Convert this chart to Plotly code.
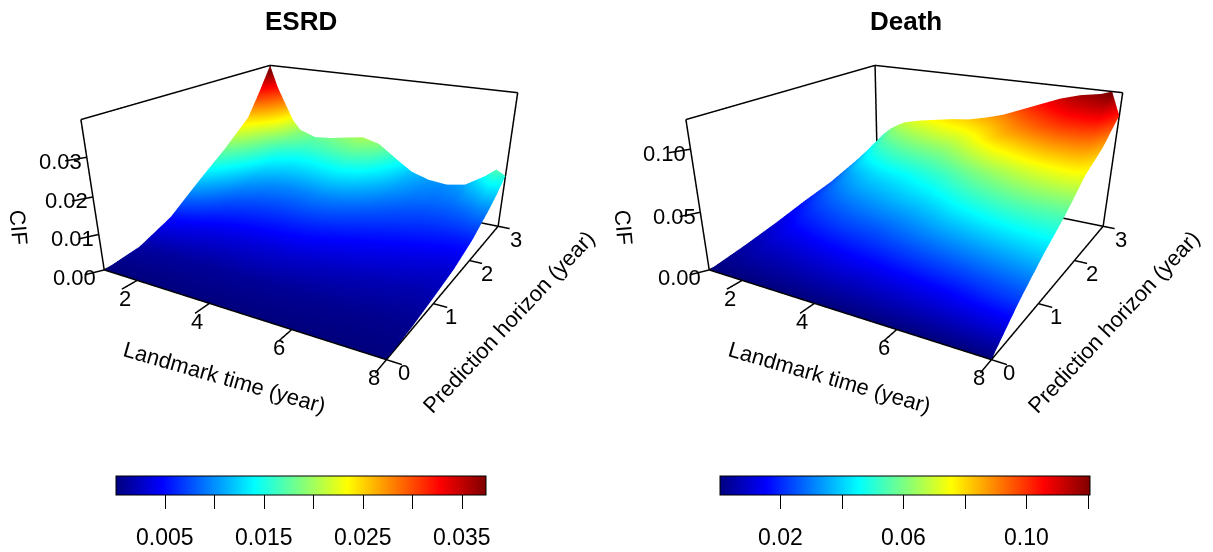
import plotly.graph_objects as go

landmark = [1, 1.25, 1.5, 1.75, 2, 2.5, 3, 3.5, 4, 4.5, 5, 5.5, 6, 6.5, 7, 7.5, 7.75, 8]
horizon = [0, 0.5, 1, 1.5, 2, 2.5, 2.75, 3]
esrd_h000 = [0]*18
esrd_h050 = [.0013,.0013,.0012,.0012,.0011,.0011,.0010,.0010,.0010,.0009,.0009,.0008,.0007,.0007,.0006,.0006,.0006,.0006]
esrd_h100 = [.0052,.0049,.0046,.0043,.0040,.0036,.0034,.0033,.0032,.0031,.0028,.0025,.0023,.0021,.0019,.0017,.0017,.0018]
esrd_h150 = [.0118,.0107,.0095,.0085,.0076,.0068,.0064,.0062,.0061,.0059,.0054,.0049,.0045,.0041,.0037,.0033,.0032,.0032]
esrd_h200 = [.0180,.0163,.0145,.0128,.0113,.0100,.0096,.0096,.0098,.0094,.0085,.0076,.0069,.0064,.0060,.0057,.0057,.0058]
esrd_h250 = [.0250,.0224,.0198,.0172,.0152,.0140,.0140,.0145,.0150,.0141,.0122,.0103,.0091,.0085,.0085,.0091,.0099,.0099]
esrd_h275 = [.0317,.0281,.0244,.0208,.0182,.0163,.0166,.0174,.0180,.0168,.0139,.0112,.0098,.0093,.0097,.0116,.0130,.0125]
esrd_h300 = [.0390,.0323,.0273,.0224,.0195,.0179,.0184,.0194,.0203,.0190,.0154,.0120,.0104,.0099,.0109,.0146,.0170,.0156]
death_h000 = [0]*18
death_h050 = [.005,.006,.007,.008,.008,.009,.010,.011,.012,.012,.013,.014,.015,.016,.018,.020,.021,.022]
death_h100 = [.011,.013,.015,.017,.018,.020,.022,.023,.024,.026,.028,.030,.032,.034,.036,.038,.039,.040]
death_h150 = [.018,.021,.024,.026,.028,.031,.033,.035,.037,.039,.042,.046,.049,.052,.054,.055,.055,.055]
death_h200 = [.024,.029,.033,.036,.038,.042,.044,.046,.049,.052,.057,.062,.066,.070,.073,.075,.075,.074]
death_h250 = [.033,.040,.046,.050,.053,.057,.060,.062,.064,.070,.077,.084,.089,.095,.100,.100,.097,.085]
death_h275 = [.038,.047,.053,.058,.061,.065,.068,.071,.073,.077,.083,.090,.097,.103,.109,.112,.112,.094]
death_h300 = [.043,.053,.060,.065,.069,.073,.076,.079,.081,.085,.090,.097,.104,.111,.116,.119,.122,.1025]
esrd_z = [esrd_h000, esrd_h050, esrd_h100, esrd_h150, esrd_h200, esrd_h250, esrd_h275, esrd_h300]
death_z = [death_h000, death_h050, death_h100, death_h150, death_h200, death_h250, death_h275, death_h300]
esrd_ticks = [0, .01, .02, .03]
death_ticks = [0, .05, .10]
esrd_top = 0.0390
death_top = 0.1220
esrd_clim = [0, 0.0374]
death_clim = [0.0002, 0.1205]
esrd_cb = [.005, .01, .015, .02, .025, .03, .035]
esrd_cb_text = ["0.005", "", "0.015", "", "0.025", "", "0.035"]
death_cb = [.02, .04, .06, .08, .10, .12]
death_cb_text = ["0.02", "", "0.06", "", "0.10", ""]
t_ticks = [2, 4, 6, 8]
h_ticks = [0, 1, 2, 3]

XR = [0, 9]; YR = [-0.5, 3.5]
ex, ey, ez, cx, cy, cz, ay, az = 0.808, -1.4274, 0.5741, 0.5261, -0.9501, 0.2851, 1.0437, 0.4201

jet = ["#00007F","#0000FF","#007FFF","#00FFFF","#7FFF7F","#FFFF00","#FF7F00","#FF0000","#7F0000"]
cs = [[i/8, c] for i, c in enumerate(jet)]
FONT = "Liberation Sans"
BLACK = "#000000"

def lines(top, zticks):
    X, Y, Z = [], [], []
    def seg(a, b):
        for q in (a, b, (None,)*3):
            X.append(q[0]); Y.append(q[1]); Z.append(q[2])
    seg((1,0,0),(8,0,0)); seg((8,0,0),(8,3,0)); seg((8,3,0),(1,3,0)); seg((1,3,0),(1,0,0))
    seg((1,0,0),(1,0,top)); seg((1,3,0),(1,3,top)); seg((8,3,0),(8,3,top))
    seg((1,0,top),(1,3,top)); seg((1,3,top),(8,3,top))
    for t in t_ticks:
        seg((t,0,0),(t,-0.2,0))
    for h in h_ticks:
        seg((8,h,0),(8.3,h,0))
    for z in zticks:
        seg((1,0,z),(0.8,-0.17,z))
    return X, Y, Z

def annots(zticks):
    a = []
    base = dict(showarrow=False, font=dict(family=FONT, size=22, color=BLACK), xanchor="center", yanchor="middle")
    for t in t_ticks:
        a.append(dict(x=t,y=0,z=0,text=str(t),xshift=-12,yshift=-18,**base))
    for h in h_ticks:
        a.append(dict(x=8,y=h,z=0,text=str(h),xshift=18,yshift=-13,**base))
    for z in zticks:
        a.append(dict(x=1,y=0,z=z,text="%.2f" % z,xshift=-30 if z == 0 else -26,yshift=-8 if z == 0 else -4,**base))
    a.append(dict(x=4.5,y=0,z=0,text="Landmark time (year)",textangle=16,xshift=-4,yshift=-68,**base))
    a.append(dict(x=8,y=1.5,z=0,text="Prediction horizon (year)",textangle=-47,xshift=57,yshift=-41,**base))
    a.append(dict(x=1,y=0,z=0,text="CIF",textangle=85,xshift=-86,yshift=43,**base))
    return a

def scene(dom, top, zticks):
    ax = dict(visible=False, showbackground=False, showgrid=False, zeroline=False, showspikes=False)
    return dict(
        domain=dict(x=dom, y=[0,1]),
        xaxis=dict(range=XR, **ax), yaxis=dict(range=YR, **ax),
        zaxis=dict(range=[-0.05*top, 1.05*top], **ax),
        aspectmode="manual", aspectratio=dict(x=1, y=ay, z=az),
        camera=dict(eye=dict(x=ex,y=ey,z=ez), center=dict(x=cx,y=cy,z=cz), up=dict(x=0,y=0,z=1)),
        annotations=annots(zticks),
    )

def panel(z, scn, clim, cbx, tv):
    return go.Surface(x=landmark, y=horizon, z=z, scene=scn, cmin=clim[0], cmax=clim[1], colorscale=cs,
        lighting=dict(ambient=1, diffuse=0, specular=0, roughness=1, fresnel=0),
        hoverinfo="skip",
        colorbar=dict(orientation="h", x=cbx, xanchor="center", xref="paper", y=(552-476)/552, yanchor="top", yref="paper",
            len=370, lenmode="pixels", thickness=19, thicknessmode="pixels", outlinewidth=1, outlinecolor=BLACK,
            ticks="outside", ticklen=14, tickwidth=1, tickcolor=BLACK, tickmode="array", tickvals=tv, ticktext=[""]*len(tv),
            xpad=0, ypad=0))

def cb_labels(vals, texts, clim, left):
    out = []
    for v, s in zip(vals, texts):
        if s:
            out.append(dict(x=(left + (v-clim[0])/(clim[1]-clim[0])*370)/1213, y=(552-537)/552, xref="paper", yref="paper",
                            xanchor="center", yanchor="middle", text=s, showarrow=False,
                            font=dict(family=FONT, size=23, color=BLACK)))
    return out

fig = go.Figure()
fig.add_trace(panel(esrd_z, "scene", esrd_clim, 301/1213, esrd_cb))
fig.add_trace(panel(death_z, "scene2", death_clim, 905/1213, death_cb))
for scn, top, zt in (("scene", esrd_top, esrd_ticks), ("scene2", death_top, death_ticks)):
    X, Y, Z = lines(top, zt)
    fig.add_trace(go.Scatter3d(x=X, y=Y, z=Z, mode="lines", scene=scn, line=dict(color=BLACK, width=3), hoverinfo="skip", showlegend=False))

titles = [
    dict(x=301/1213, y=(552-21)/552, xref="paper", yref="paper", xanchor="center", yanchor="middle", text="<b>ESRD</b>", showarrow=False, font=dict(family=FONT, size=26, color=BLACK)),
    dict(x=906/1213, y=(552-21)/552, xref="paper", yref="paper", xanchor="center", yanchor="middle", text="<b>Death</b>", showarrow=False, font=dict(family=FONT, size=26, color=BLACK)),
]
fig.update_layout(
    width=1213, height=552, margin=dict(l=0, r=0, t=0, b=0, autoexpand=False), paper_bgcolor="white", showlegend=False,
    scene=scene([0, 606.5/1213], esrd_top, esrd_ticks),
    scene2=scene([605/1213, 1211.5/1213], death_top, death_ticks),
    annotations=titles + cb_labels(esrd_cb, esrd_cb_text, esrd_clim, 116) + cb_labels(death_cb, death_cb_text, death_clim, 720),
)
fig.write_html("out.html", config={"displayModeBar": False},
               post_script="document.body.style.margin='0';document.body.style.overflow='hidden';")
